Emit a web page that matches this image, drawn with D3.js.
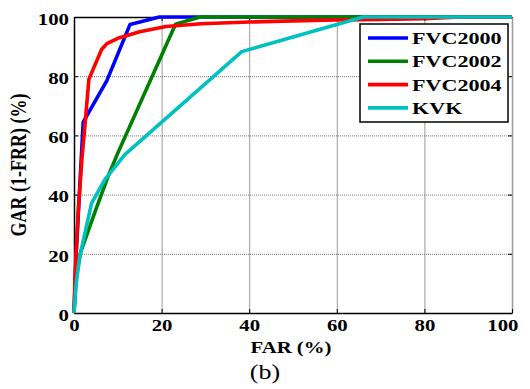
<!DOCTYPE html>
<html lang="en">
<head>
  <meta charset="UTF-8">
  <title>GAR vs FAR</title>
  <style>
    body { margin: 0; background: #fff; }
    svg text { font-family: "Liberation Serif", "Times New Roman", serif; }
  </style>
</head>
<body>
  <svg id="chart"></svg>
  <script src="https://cdn.jsdelivr.net/npm/d3@7/dist/d3.min.js"></script>
  <script>
    // data
    var seriesNames = ['FVC2000', 'FVC2002', 'FVC2004', 'KVK'];
    var seriesColors = ['#0000ff', '#008000', '#ff0000', '#00c0c0'];
    var far2000 = [0, 0.5, 2.1, 7.5, 12.8, 19.5, 100];
    var gar2000 = [0, 20, 64.5, 78.5, 97.5, 100, 100];
    var far2002 = [0, 0.5, 1.5, 5, 8, 10, 23.2, 28.8, 100];
    var gar2002 = [0, 12, 20.5, 35, 47, 54, 97.6, 100, 100];
    var far2004 = [0, 0.3, 1, 1.8, 2.6, 3.4, 6.3, 7.5, 10, 15, 21, 29, 40, 50, 60, 70, 80, 88, 100];
    var gar2004 = [0, 15, 35, 52, 65, 79, 89, 91, 92.8, 95, 96.8, 97.7, 98.3, 98.7, 99, 99.2, 99.4, 100, 100];
    var farKvk = [0, 0.5, 1.3, 4, 7, 11.6, 38.3, 66, 100];
    var garKvk = [0, 10, 19, 37, 45, 53.5, 88.3, 100, 100];
    var xTicks = [0, 20, 40, 60, 80, 100];
    var yTicks = [0, 20, 40, 60, 80, 100];

    var allFar = [far2000, far2002, far2004, farKvk];
    var allGar = [gar2000, gar2002, gar2004, garKvk];

    var W = 530, H = 389, SX = 1.3;
    var svg = d3.select('#chart').attr('width', W).attr('height', H);

    var x = d3.scaleLinear().domain([0, 100]).range([74, 512]);
    var y = d3.scaleLinear().domain([0, 100]).range([313, 17]);

    // grid
    svg.append('g')
      .attr('transform', 'translate(0,313)')
      .call(d3.axisBottom(x).tickValues(xTicks.slice(1, -1)).tickSize(-296).tickFormat(''))
      .call(g => g.select('.domain').remove())
      .selectAll('line').attr('stroke', '#9a9a9a').attr('stroke-width', 1);
    svg.append('g')
      .attr('transform', 'translate(74,0)')
      .call(d3.axisLeft(y).tickValues(yTicks.slice(1, -1)).tickSize(-438).tickFormat(''))
      .call(g => g.select('.domain').remove())
      .selectAll('line').attr('stroke', '#777').attr('stroke-width', 1).attr('stroke-dasharray', '1,1');

    // top and right edges
    svg.append('g')
      .attr('transform', 'translate(0,17)')
      .call(d3.axisTop(x).tickValues(xTicks).tickSizeInner(-4).tickSizeOuter(0).tickFormat(''))
      .call(g => g.select('.domain').attr('stroke', '#000').attr('stroke-width', 1.5));
    svg.append('g')
      .attr('transform', 'translate(512,0)')
      .call(d3.axisRight(y).tickValues(yTicks).tickSizeInner(-4).tickSizeOuter(0).tickFormat(''))
      .call(g => g.select('.domain').attr('stroke', '#999').attr('stroke-width', 1.5));

    // bottom axis
    var xAxis = svg.append('g')
      .attr('transform', 'translate(0,313)')
      .call(d3.axisBottom(x).tickValues(xTicks).tickSizeInner(-4).tickSizeOuter(0).tickPadding(6.6));
    xAxis.select('.domain').attr('stroke-width', 1.5);
    xAxis.selectAll('text')
      .attr('font-size', 16).attr('font-weight', 'bold').attr('fill', '#000')
      .attr('font-family', '"Liberation Serif", "Times New Roman", serif')
      .attr('transform', 'scale(' + SX + ',1)');
    xAxis.selectAll('text').filter(d => d === 100)
      .attr('text-anchor', 'end').attr('x', 6 / SX);

    // left axis
    var yAxis = svg.append('g')
      .attr('transform', 'translate(74,0)')
      .call(d3.axisLeft(y).tickValues(yTicks).tickSizeInner(-4).tickSizeOuter(0).tickPadding(5 / SX));
    yAxis.select('.domain').attr('stroke-width', 1.5);
    yAxis.selectAll('text')
      .attr('font-size', 16).attr('font-weight', 'bold').attr('fill', '#000')
      .attr('font-family', '"Liberation Serif", "Times New Roman", serif')
      .attr('dy', '0.45em')
      .attr('transform', 'scale(' + SX + ',1)');

    // curves
    var line = d3.line().x(d => x(d[0])).y(d => y(d[1]));
    allFar.forEach(function (fx, i) {
      var pts = fx.map((v, j) => [v, allGar[i][j]]);
      svg.append('path')
        .datum(pts)
        .attr('d', line)
        .attr('fill', 'none')
        .attr('stroke', seriesColors[i])
        .attr('stroke-width', 3.6)
        .attr('stroke-linejoin', 'round');
    });

    // text helper, stretched horizontally like the original figure
    function label(px, py, str, size, weight, anchor, rot) {
      var g = svg.append('g')
        .attr('transform', 'translate(' + px + ',' + py + ') scale(' + SX + ',1)' + (rot ? ' rotate(-90)' : ''));
      return g.append('text')
        .attr('text-anchor', anchor)
        .attr('font-size', size)
        .attr('font-weight', weight)
        .attr('fill', '#000')
        .text(str);
    }

    label(291, 353, 'FAR (%)', 16, 'bold', 'middle');
    label(265, 379, '(b)', 20, 'normal', 'middle');
    label(26, 165, 'GAR (1-FRR) (%)', 18, 'bold', 'middle', true);

    // legend
    var legend = svg.append('g');
    legend.append('rect')
      .attr('x', 360).attr('y', 24).attr('width', 148).attr('height', 98)
      .attr('fill', '#fff').attr('stroke', '#000').attr('stroke-width', 1.5);
    seriesNames.forEach(function (name, i) {
      var by = 44 + i * 23.3;
      legend.append('line')
        .attr('x1', 368).attr('x2', 408)
        .attr('y1', by - 6).attr('y2', by - 6)
        .attr('stroke', seriesColors[i]).attr('stroke-width', 3.6);
      label(412, by, name, 17, 'bold', 'start');
    });
  </script>
</body>
</html>
